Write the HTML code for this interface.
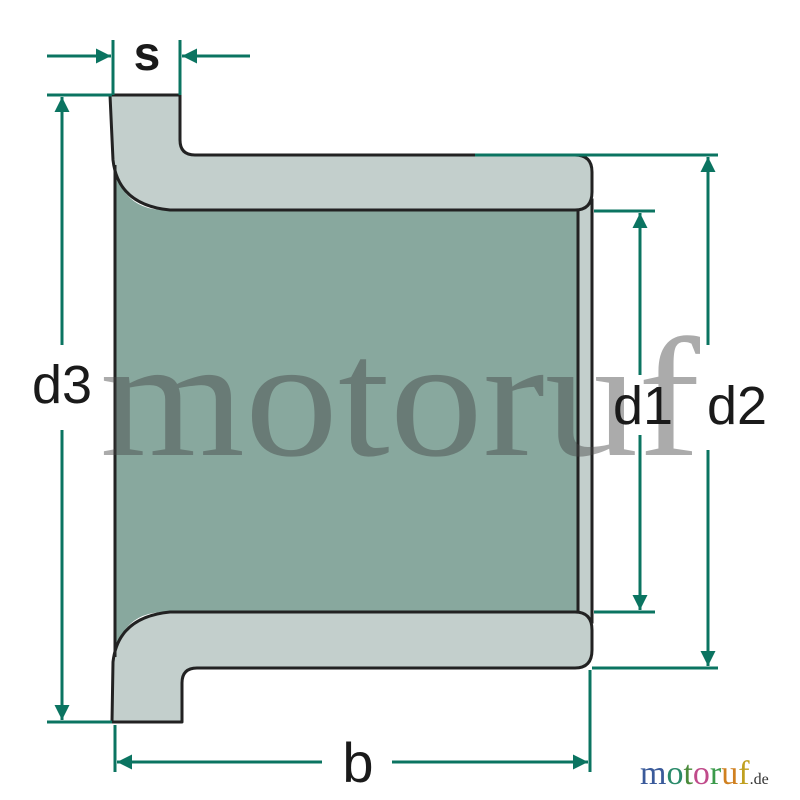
<!DOCTYPE html>
<html><head><style>body{margin:0;background:#fff}svg{display:block}</style></head><body>
<svg width="800" height="800" viewBox="0 0 800 800" xmlns="http://www.w3.org/2000/svg">
<defs>
<marker id="a" viewBox="0 0 10 10" refX="10" refY="5" markerWidth="5" markerHeight="5" orient="auto-start-reverse" markerUnits="strokeWidth"><path d="M0,0 L10,5 L0,10 Z" fill="#0b7461"/></marker>
</defs>
<path d="M115,170 Q125,210 165,210 L580,210 L580,612 L165,612 Q125,612 115,652 Z" fill="#88a89e"/>
<rect x="578" y="200" width="14" height="422" fill="#c3cfcc" stroke="#222" stroke-width="3"/>
<path d="M110,95 L180,95 L180,140 Q180,155 195,155 L575,155 Q592,155 592,172 L592,192 Q592,210 575,210 L170,210 Q118,205 113,160 Z" fill="#c3cfcc" stroke="#222" stroke-width="3" stroke-linejoin="round"/>
<path d="M112,722 L182,722 L182,683 Q182,668 197,668 L575,668 Q592,668 592,650 L592,630 Q592,612 575,612 L170,612 Q118,617 113,662 Z" fill="#c3cfcc" stroke="#222" stroke-width="3" stroke-linejoin="round"/>
<line x1="115" y1="165" x2="115" y2="657" stroke="#222" stroke-width="3"/>
<g stroke="#0b7461" stroke-width="3" fill="none">
<line x1="113" y1="40" x2="113" y2="95"/><line x1="180" y1="40" x2="180" y2="95"/>
<line x1="47" y1="56" x2="111" y2="56" marker-end="url(#a)"/>
<line x1="250" y1="56" x2="182" y2="56" marker-end="url(#a)"/>
<line x1="47" y1="95" x2="112" y2="95"/><line x1="47" y1="722" x2="112" y2="722"/>
<line x1="62" y1="345" x2="62" y2="97" marker-end="url(#a)"/>
<line x1="62" y1="430" x2="62" y2="720" marker-end="url(#a)"/>
<line x1="475" y1="155" x2="718" y2="155"/><line x1="592" y1="668" x2="718" y2="668"/>
<line x1="708" y1="345" x2="708" y2="157" marker-end="url(#a)"/>
<line x1="708" y1="450" x2="708" y2="666" marker-end="url(#a)"/>
<line x1="594" y1="211" x2="655" y2="211"/><line x1="594" y1="612" x2="655" y2="612"/>
<line x1="640" y1="375" x2="640" y2="213" marker-end="url(#a)"/>
<line x1="640" y1="435" x2="640" y2="610" marker-end="url(#a)"/>
<line x1="115" y1="725" x2="115" y2="772"/><line x1="590" y1="670" x2="590" y2="772"/>
<line x1="322" y1="762" x2="117" y2="762" marker-end="url(#a)"/>
<line x1="392" y1="762" x2="588" y2="762" marker-end="url(#a)"/>
</g>
<text x="100" y="455" font-family="Liberation Serif, serif" font-size="170" fill="#444" fill-opacity="0.45" textLength="600" lengthAdjust="spacingAndGlyphs">motoruf</text>
<g font-family="Liberation Sans, sans-serif" fill="#1a1a1a">
<text x="147" y="70" font-size="48" font-weight="bold" text-anchor="middle">s</text>
<text x="62" y="403" font-size="54" text-anchor="middle">d3</text>
<text x="643" y="424" font-size="54" text-anchor="middle">d1</text>
<text x="737" y="424" font-size="54" text-anchor="middle">d2</text>
<text x="358" y="782" font-size="56" text-anchor="middle">b</text>
</g>
<text x="640" y="784" font-family="Liberation Serif, serif" font-size="34"><tspan fill="#3a5a9a">m</tspan><tspan fill="#2a8a6a">o</tspan><tspan fill="#4a8a3a">t</tspan><tspan fill="#c04a8a">o</tspan><tspan fill="#3a9a4a">r</tspan><tspan fill="#d08020">u</tspan><tspan fill="#c0a020">f</tspan><tspan fill="#333" font-size="16">.de</tspan></text>
</svg>
</body></html>
